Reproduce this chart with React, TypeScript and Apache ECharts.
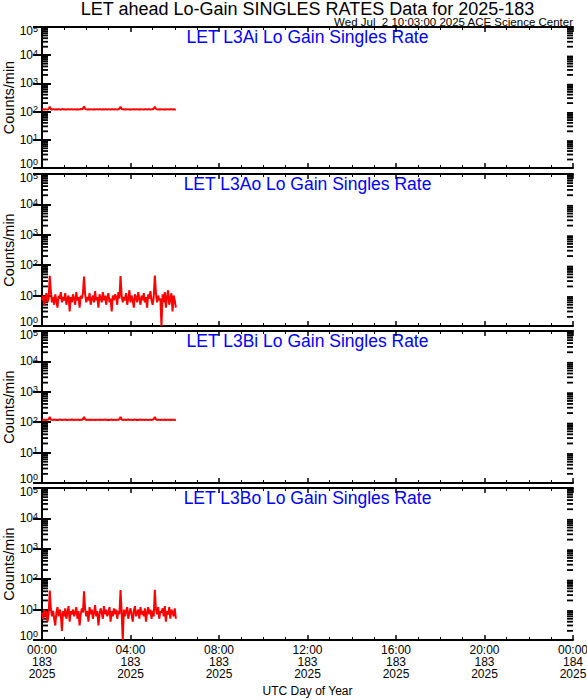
import React, { useEffect, useRef } from "react";
import * as echarts from "echarts";

// ---- Data ----
const MAIN_TITLE = "LET ahead Lo-Gain SINGLES RATES Data for 2025-183";
const SUB_TITLE = "Wed Jul  2 10:03:00 2025 ACE Science Center";
const PANEL_TITLES = [
  "LET L3Ai Lo Gain Singles Rate",
  "LET L3Ao Lo Gain Singles Rate",
  "LET L3Bi Lo Gain Singles Rate",
  "LET L3Bo Lo Gain Singles Rate",
];
const Y_NAME = "Counts/min";
const X_NAME = "UTC Day of Year";
const START_DAY = 183;
const YEAR = 2025;
const STEP_HOURS = 0.05; // 3-minute samples starting 00:00
const X_TICK_HOURS = [0, 4, 8, 12, 16, 20, 24];
const Y_MIN = 1;
const Y_MAX = 100000;

const L3Ai = [
  118, 121, 119, 122, 120, 118, 125, 150, 124, 119,
  121, 120, 118, 122, 119, 121, 120, 117, 121, 123,
  119, 120, 118, 121, 122, 119, 120, 121, 118, 120,
  122, 119, 121, 118, 120, 123, 121, 126, 152, 125,
  120, 118, 121, 119, 122, 120, 118, 121, 119, 120,
  122, 118, 121, 120, 119, 122, 118, 120, 121, 119,
  122, 120, 118, 121, 120, 119, 122, 120, 118, 121,
  126, 150, 124, 120, 119, 121, 118, 122, 120, 119,
  121, 118, 120, 122, 119, 121, 120, 118, 121, 119,
  122, 120, 118, 121, 120, 119, 122, 121, 118, 120,
  121, 126, 149, 125, 120, 118, 121, 119, 122, 120,
  118, 121, 119, 120, 122, 118, 121, 120, 119, 121,
  118, 120,
];
const L3Ao = [
  7, 10, 5, 9, 12, 6, 8, 45, 14, 6,
  9, 5, 11, 7, 4, 10, 8, 13, 6, 9,
  7, 12, 5, 8, 10, 3, 9, 6, 11, 8,
  5, 13, 7, 9, 4, 10, 8, 12, 42, 11,
  6, 9, 7, 12, 5, 8, 10, 6, 14, 7,
  9, 4, 11, 8, 6, 13, 7, 10, 5, 9,
  12, 6, 8, 3, 10, 7, 11, 9, 5, 13,
  8, 44, 10, 6, 9, 7, 12, 5, 8, 15,
  6, 10, 7, 4, 11, 9, 6, 13, 8, 5,
  10, 7, 12, 6, 9, 4, 11, 8, 14, 7,
  5, 9, 46, 12, 6, 10, 7, 8, 1, 11,
  6, 13, 4, 9, 15, 5, 8, 12, 3, 10,
  7, 4,
];
const L3Bi = [
  120, 119, 122, 118, 121, 120, 124, 148, 123, 120,
  119, 122, 120, 118, 121, 119, 122, 120, 118, 121,
  120, 122, 119, 118, 121, 120, 119, 122, 120, 118,
  121, 120, 119, 122, 118, 121, 120, 125, 150, 124,
  119, 121, 120, 118, 122, 119, 121, 120, 118, 121,
  120, 119, 122, 118, 120, 121, 119, 122, 120, 118,
  121, 119, 120, 122, 118, 121, 120, 119, 121, 120,
  125, 149, 123, 119, 121, 120, 118, 121, 122, 119,
  120, 121, 118, 120, 122, 119, 121, 118, 120, 122,
  119, 121, 120, 118, 122, 120, 119, 121, 120, 118,
  122, 125, 150, 124, 119, 121, 120, 118, 121, 120,
  119, 122, 118, 121, 120, 119, 122, 118, 121, 120,
  119, 121,
];
const L3Bo = [
  8, 5, 10, 6, 9, 4, 7, 42, 11, 6,
  9, 5, 3, 8, 12, 6, 10, 7, 2, 9,
  6, 11, 5, 8, 13, 4, 9, 7, 10, 6,
  8, 12, 5, 9, 3, 7, 11, 8, 40, 10,
  6, 9, 4, 12, 7, 10, 5, 8, 14, 6,
  9, 3, 7, 11, 8, 5, 13, 7, 10, 6,
  8, 12, 4, 9, 6, 11, 7, 10, 5, 9,
  7, 44, 8, 1, 10, 6, 9, 12, 5, 8,
  11, 7, 4, 9, 13, 6, 8, 10, 5, 12,
  7, 9, 6, 11, 4, 8, 12, 7, 10, 5,
  9, 6, 45, 10, 7, 12, 5, 9, 8, 11,
  6, 13, 4, 9, 7, 12, 5, 10, 8, 6,
  11, 5,
];
const SERIES_VALUES = [L3Ai, L3Ao, L3Bi, L3Bo];
const MINOR_MULTIPLIERS = [2, 3, 4, 5, 6, 7, 8, 9];
const DECADES = [0, 1, 2, 3, 4];

// ---- Layout ----
const W = 587;
const H = 700;
const GRID_LEFT = 42;
const GRID_RIGHT = 14;
const PANELS = [
  { top: 27, height: 141 },
  { top: 174, height: 152 },
  { top: 331, height: 152 },
  { top: 488, height: 152 },
];
const FONT = "Liberation Sans";

export default function App() {
  const ref = useRef<HTMLDivElement>(null);

  useEffect(() => {
    document.body.style.margin = "0";
    if (!ref.current) return;
    const chart = echarts.init(ref.current, null, { renderer: "svg" });

    const grids: any[] = [];
    const xAxes: any[] = [];
    const yAxes: any[] = [];
    const series: any[] = [];
    const graphics: any[] = [];

    const minorData: number[][] = [];
    DECADES.forEach((d) =>
      MINOR_MULTIPLIERS.forEach((m) => minorData.push([0, m * Math.pow(10, d)]))
    );

    const xMax = X_TICK_HOURS[X_TICK_HOURS.length - 1];
    const xInterval = X_TICK_HOURS[1] - X_TICK_HOURS[0];
    const centerX = GRID_LEFT + (W - GRID_LEFT - GRID_RIGHT) / 2;

    PANELS.forEach((p, i) => {
      grids.push({
        left: GRID_LEFT,
        right: GRID_RIGHT,
        top: p.top,
        height: p.height,
        containLabel: false,
        outerBoundsMode: "none",
      });
      const isBottom = i === PANELS.length - 1;
      const xCommon = {
        type: "value",
        gridIndex: i,
        min: X_TICK_HOURS[0],
        max: xMax,
        interval: xInterval,
        splitLine: { show: false },
        axisLine: { show: true, lineStyle: { color: "#000", width: 2 } },
        axisTick: { show: true, inside: true, length: 5, lineStyle: { color: "#000", width: 1.5 } },
        minorTick: { show: true, splitNumber: 4, length: 3, lineStyle: { color: "#000", width: 1 } },
      };
      xAxes.push({
        ...xCommon,
        position: "bottom",
        axisLabel: {
          show: isBottom,
          color: "#000",
          fontFamily: FONT,
          fontSize: 12,
          lineHeight: 12,
          margin: 4,
          formatter: (v: number) => {
            const day = START_DAY + Math.floor(v / 24);
            const hh = String(v % 24).padStart(2, "0");
            return `${hh}:00\n${day}\n${YEAR}`;
          },
        },
      });
      xAxes.push({
        ...xCommon,
        position: "top",
        axisLabel: { show: false },
      });
      const yCommon = {
        type: "log",
        logBase: 10,
        gridIndex: i,
        min: Y_MIN,
        max: Y_MAX,
        splitLine: { show: false },
        axisLine: { show: true, lineStyle: { color: "#000", width: 2 } },
        axisTick: { show: true, inside: true, length: 9, lineStyle: { color: "#000", width: 2 } },
      };
      yAxes.push({
        ...yCommon,
        position: "left",
        name: Y_NAME,
        nameLocation: "middle",
        nameGap: 26,
        nameMoveOverlap: false,
        nameTextStyle: { color: "#000", fontFamily: FONT, fontSize: 14.5 },
        axisLabel: {
          show: true,
          margin: 4,
          color: "#000",
          formatter: (v: number) => {
            const e = Math.round(Math.log10(v));
            const main = `{b|10}{s|${e}}`;
            if (v <= Y_MIN) return `${main}\n{gap|}`;
            if (v >= Y_MAX) return `{gap|}\n${main}`;
            return main;
          },
          rich: {
            b: { fontFamily: FONT, fontSize: 12, color: "#000", lineHeight: 14 },
            s: { fontFamily: FONT, fontSize: 9, color: "#000", verticalAlign: "top", lineHeight: 14, padding: [0, 0, 7, 0] },
            gap: { lineHeight: 8, fontSize: 8 },
          },
        },
      });
      yAxes.push({
        ...yCommon,
        position: "right",
        axisLabel: { show: false },
      });

      series.push({
        type: "line",
        xAxisIndex: 2 * i,
        yAxisIndex: 2 * i,
        showSymbol: false,
        symbol: "none",
        lineStyle: { color: "#ff0000", width: 2 },
        data: SERIES_VALUES[i].map((v, k) => [k * STEP_HOURS, v]),
        z: 3,
      });
      series.push({
        type: "custom",
        xAxisIndex: 2 * i,
        yAxisIndex: 2 * i,
        clip: false,
        silent: true,
        data: minorData,
        encode: { x: 0, y: 1 },
        renderItem: (params: any, api: any) => {
          const v = api.value(1);
          const l = api.coord([X_TICK_HOURS[0], v]);
          const r = api.coord([xMax, v]);
          return {
            type: "group",
            children: [
              { type: "line", shape: { x1: l[0], y1: l[1], x2: l[0] + 6, y2: l[1] }, style: { stroke: "#000", lineWidth: 1.8 } },
              { type: "line", shape: { x1: r[0] - 6, y1: r[1], x2: r[0], y2: r[1] }, style: { stroke: "#000", lineWidth: 1.8 } },
            ],
          };
        },
        z: 2,
      });

      graphics.push({
        type: "text",
        x: centerX,
        y: p.top + 1,
        style: {
          text: PANEL_TITLES[i],
          fill: "#0000ff",
          fontFamily: FONT,
          fontSize: 17.5,
          textAlign: "center",
          textVerticalAlign: "top",
        },
      });
    });

    graphics.push({
      type: "text",
      x: centerX,
      y: 0,
      style: { text: MAIN_TITLE, fill: "#000", fontFamily: FONT, fontSize: 18, textAlign: "center", textVerticalAlign: "top" },
    });
    graphics.push({
      type: "text",
      x: W - GRID_RIGHT,
      y: 16,
      style: { text: SUB_TITLE, fill: "#000", fontFamily: FONT, fontSize: 11.5, textAlign: "right", textVerticalAlign: "top" },
    });
    graphics.push({
      type: "text",
      x: centerX,
      y: 685,
      style: { text: X_NAME, fill: "#000", fontFamily: FONT, fontSize: 12, textAlign: "center", textVerticalAlign: "top" },
    });

    chart.setOption({
      animation: false,
      backgroundColor: "#fff",
      grid: grids,
      xAxis: xAxes,
      yAxis: yAxes,
      series,
      graphic: graphics,
    });

    return () => chart.dispose();
  }, []);

  return <div ref={ref} style={{ width: W, height: H }} />;
}
